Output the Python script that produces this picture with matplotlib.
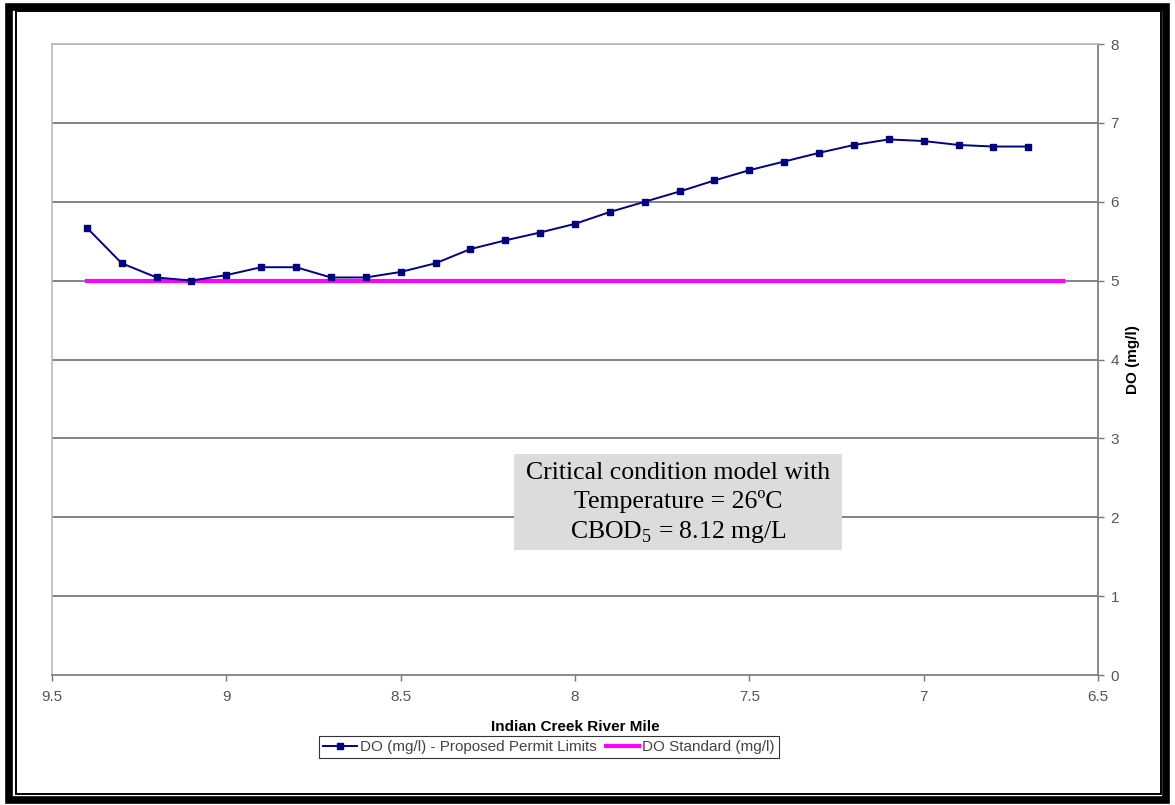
import numpy as np
import matplotlib
matplotlib.use('Agg')
import matplotlib.pyplot as plt
from matplotlib.patches import Rectangle

# river mile and DO values
river_mile = [9.4, 9.3, 9.2, 9.1, 9.0, 8.9, 8.8, 8.7, 8.6, 8.5, 8.4, 8.3, 8.2, 8.1,
              8.0, 7.9, 7.8, 7.7, 7.6, 7.5, 7.4, 7.3, 7.2, 7.1, 7.0, 6.9, 6.8, 6.7]
do_permit = [5.67, 5.22, 5.04, 5.00, 5.07, 5.17, 5.17, 5.04, 5.04, 5.11, 5.22, 5.40, 5.51, 5.61,
             5.72, 5.87, 6.00, 6.13, 6.27, 6.40, 6.51, 6.62, 6.72, 6.79, 6.77, 6.72, 6.70, 6.70]
std_mile = [9.4, 6.6]
do_standard = [5.0, 5.0]

x_ticks = [9.5, 9, 8.5, 8, 7.5, 7, 6.5]
x_ticklabels = ['9.5', '9', '8.5', '8', '7.5', '7', '6.5']
y_ticks = [0, 1, 2, 3, 4, 5, 6, 7, 8]

plt.rcParams['font.family'] = ['Liberation Sans', 'DejaVu Sans']
plt.rcParams['mathtext.fontset'] = 'custom'
plt.rcParams['mathtext.rm'] = 'Liberation Serif'

fig = plt.figure(figsize=(11.75, 8.05), dpi=100)
ax = fig.add_axes([52/1175, 1-675/805, 1046/1175, 631/805])

ax.set_xlim(9.5, 6.5)
ax.set_ylim(0, 8)
ax.set_xticks(x_ticks)
ax.set_xticklabels(x_ticklabels)
ax.set_yticks(y_ticks)
ax.yaxis.tick_right()
ax.yaxis.set_label_position('right')
ax.tick_params(axis='both', labelsize=11, labelcolor='#555555', color='#777777', length=4, width=1)
ax.tick_params(axis='x', pad=7)
ax.tick_params(axis='y', pad=5)

for y in y_ticks[1:]:
    ax.axhline(y, color='#7a7a7a', lw=1.3, zorder=1)
for side in ['left', 'top']:
    ax.spines[side].set_color('#bbbbbb')
    ax.spines[side].set_linewidth(1.2)
for side in ['right', 'bottom']:
    ax.spines[side].set_color('#808080')
    ax.spines[side].set_linewidth(1.3)

ax.plot(std_mile, do_standard, color='#ff00ff', lw=3, zorder=2, label='DO Standard (mg/l)')
ax.plot(river_mile, do_permit, color='#000080', lw=1.4, marker='s', ms=4, zorder=3,
        label='DO (mg/l) - Proposed Permit Limits')

xl = ax.set_xlabel('Indian Creek River Mile', fontsize=11, fontweight='bold')
ax.xaxis.set_label_coords(0.5, -(727-675)/631)
xl.set_va('center')
yl = ax.set_ylabel('DO (mg/l)', fontsize=11, fontweight='bold', rotation=90)
ax.yaxis.set_label_coords(1+(1133-1098)/1046, 0.5)
yl.set_va('center')
yl.set_ha('center')

# annotation box
ax.add_patch(Rectangle((0.4417, 0.198), 0.3136, 0.152, transform=ax.transAxes,
                       facecolor='#dcdcdc', edgecolor='none', zorder=4))
ax.text(0.5985, 0.272, 'Critical condition model with\nTemperature = 26ºC\nCBOD$_{\\mathrm{5}}$ = 8.12 mg/L',
        transform=ax.transAxes, ha='center', va='center', fontsize=18.5,
        family='Liberation Serif', linespacing=1.32, zorder=5)

h, l = ax.get_legend_handles_labels()
leg = fig.legend(h[::-1], l[::-1], loc='center', bbox_to_anchor=(549/1175, 1-747/805), ncol=2,
                 fontsize=11, frameon=True, fancybox=False, edgecolor='black',
                 handlelength=2.2, columnspacing=0.6, handletextpad=0.2, borderpad=0.25)
leg.get_frame().set_linewidth(0.8)
for t in leg.get_texts():
    t.set_color('#444444')

# double frame round the picture
fig.add_artist(Rectangle((9/1175, 5/805), 1157/1175, 793/805, transform=fig.transFigure,
                         fill=False, edgecolor='black', lw=5.5))
fig.add_artist(Rectangle((15.5/1175, 11/805), 1145/1175, 783/805, transform=fig.transFigure,
                         fill=False, edgecolor='black', lw=1.4))

fig.savefig('out.png', dpi=100)
